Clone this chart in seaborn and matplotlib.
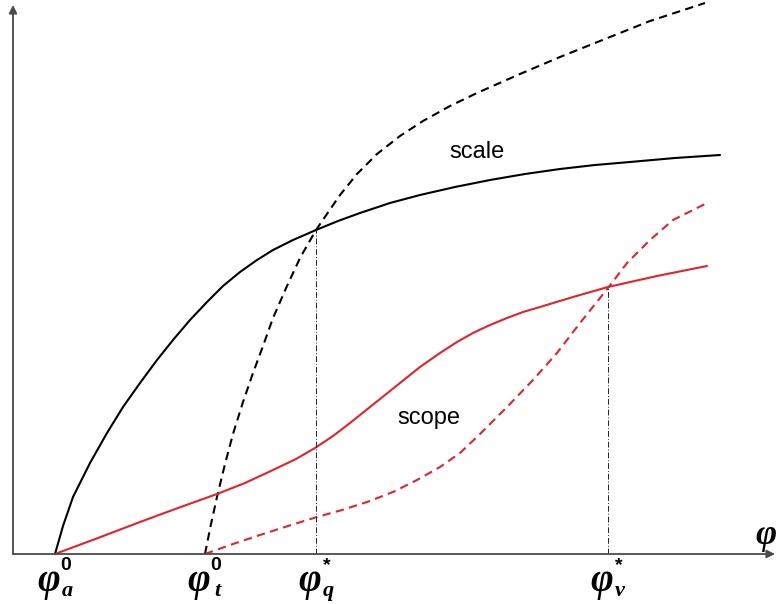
import numpy as np
import matplotlib
matplotlib.use("Agg")
import matplotlib.pyplot as plt
import seaborn as sns

# curve points (x from the origin, height above the axis)
scale_x = [42, 50, 60, 77, 94, 110, 127, 144, 160, 177, 194, 210, 227, 244, 260, 280,
           303, 325, 347, 377, 407, 442, 477, 512, 547, 582, 617, 662, 707]
scale_y = [0, 28, 57, 91, 121, 147, 171, 194, 214, 234, 252, 268, 282, 294, 304, 314,
           324, 333, 341, 351, 359, 367, 374, 380, 385, 389, 392, 396, 399]

scale2_x = [192, 198, 204, 212, 220, 230, 240, 250, 260, 274, 287, 303, 327, 344, 364,
            387, 410, 437, 464, 507, 547, 587, 637, 692]
scale2_y = [0, 30, 57, 90, 120, 152, 181, 208, 236, 268, 296, 324, 359, 380, 400,
            418, 433, 448, 461, 480, 497, 513, 533, 551]

scope_x = [42, 85, 127, 165, 204, 232, 260, 283, 302, 320, 337, 362, 387, 407, 427,
           444, 460, 477, 494, 510, 527, 560, 595, 644, 694]
scope_y = [0, 16, 32, 46, 60, 71, 84, 95, 106, 118, 131, 151, 171, 187, 201,
           212, 221, 229, 236, 242, 247, 257, 267, 278, 288]

scope2_x = [192, 220, 247, 275, 304, 329, 354, 380, 404, 427, 447, 467, 494, 520, 544,
            567, 595, 614, 637, 660, 694]
scope2_y = [0, 10, 19, 28, 37, 44, 52, 62, 74, 87, 101, 120, 147, 174, 201,
            231, 266, 291, 314, 334, 351]

# marked points on the axis
phi_a0 = 42
phi_t0 = 192
phi_q = 303
phi_v = 595

sns.set_theme(style="white")
fig = plt.figure(figsize=(7.77, 6.04), dpi=100)
ax = fig.add_axes([0, 0, 1, 1])
ax.set_xlim(-13, 764)
ax.set_ylim(-50, 554)
ax.axis("off")

red = "#e3232b"
dash = (0, (4, 2.6))

sns.lineplot(x=scale_x, y=scale_y, sort=False, color="black", lw=1.5, ax=ax)
sns.lineplot(x=scale2_x, y=scale2_y, sort=False, color="black", lw=1.5, ax=ax, linestyle=dash)
sns.lineplot(x=scope_x, y=scope_y, sort=False, color=red, lw=1.5, ax=ax)
sns.lineplot(x=scope2_x, y=scope2_y, sort=False, color=red, lw=1.5, ax=ax, linestyle=dash)

# dash-dot drop lines at the crossings
q_top = np.interp(phi_q, scale_x, scale_y)
v_top = np.interp(phi_v, scope_x, scope_y)
ax.plot([phi_q, phi_q], [0, q_top], color="#222222", lw=0.7, dashes=(6, 2, 1, 2))
ax.plot([phi_v, phi_v], [0, v_top], color="#222222", lw=0.7, dashes=(6, 2, 1, 2))

# axes with arrows
axis_col = "#4a4a4a"
ax.annotate("", xy=(762, 0), xytext=(0, 0),
            arrowprops=dict(arrowstyle="-|>", color=axis_col, lw=1.3, mutation_scale=12, shrinkA=0, shrinkB=0))
ax.annotate("", xy=(0, 549), xytext=(0, 0),
            arrowprops=dict(arrowstyle="-|>", color=axis_col, lw=1.3, mutation_scale=12, shrinkA=0, shrinkB=0))

ax.text(464, 402, "scale", fontsize=17, family="Liberation Sans", color="black", ha="center", va="center")
ax.text(416, 136, "scope", fontsize=17, family="Liberation Sans", color="black", ha="center", va="center")

# axis labels: big phi, subscript, superscript
serif = "Liberation Serif"
def phi_label(x, sub, sup):
    ax.text(x, -28, "\u03c6", fontsize=28, family=serif, weight="bold", style="italic",
            color="black", ha="center", va="center")
    ax.text(x + 18, -37, sub, fontsize=16, family=serif, weight="bold", style="italic",
            color="black", ha="center", va="center")
    ax.text(x + 17, -12, sup, fontsize=14, family="Liberation Sans", weight="bold",
            color="black", ha="center", va="center")

phi_label(phi_a0 - 6, "a", "0")
phi_label(phi_t0 - 6, "t", "0")
phi_label(phi_q - 6, "q", "*")
phi_label(phi_v - 6, "v", "*")
ax.text(764, 18, "\u03c6", fontsize=26, family=serif, weight="bold", style="italic",
        color="black", ha="right", va="center")

fig.savefig("out.png", dpi=100)
